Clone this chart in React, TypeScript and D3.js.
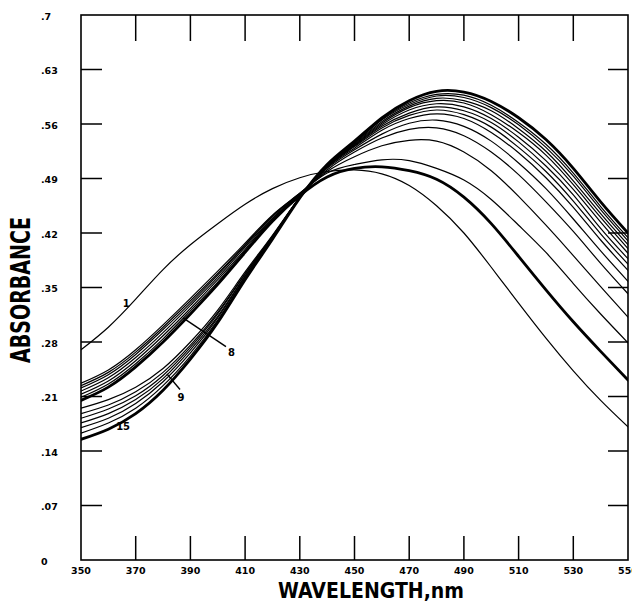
import React from "react";
import * as d3 from "d3";

const wavelengths = [350, 360, 370, 380, 390, 400, 410, 420, 430, 440, 450, 460, 470, 480, 490, 500, 510, 520, 530, 540, 550];

const spectrum1 = [0.27, 0.299, 0.335, 0.373, 0.405, 0.432, 0.457, 0.477, 0.491, 0.499, 0.501, 0.496, 0.481, 0.455, 0.42, 0.376, 0.33, 0.285, 0.243, 0.205, 0.171];
const spectrum2 = [0.227, 0.244, 0.27, 0.302, 0.336, 0.371, 0.407, 0.443, 0.471, 0.497, 0.508, 0.514, 0.513, 0.503, 0.488, 0.463, 0.43, 0.395, 0.355, 0.316, 0.279];
const spectrum3 = [0.224, 0.241, 0.267, 0.299, 0.333, 0.368, 0.405, 0.442, 0.471, 0.499, 0.518, 0.532, 0.539, 0.538, 0.524, 0.5, 0.467, 0.43, 0.391, 0.351, 0.312];
const spectrum4 = [0.221, 0.238, 0.264, 0.296, 0.33, 0.366, 0.404, 0.441, 0.47, 0.501, 0.524, 0.542, 0.553, 0.555, 0.545, 0.524, 0.495, 0.46, 0.422, 0.381, 0.342];
const spectrum5 = [0.217, 0.234, 0.26, 0.292, 0.327, 0.363, 0.402, 0.439, 0.47, 0.503, 0.527, 0.547, 0.561, 0.565, 0.557, 0.538, 0.51, 0.477, 0.438, 0.397, 0.358];
const spectrum6 = [0.213, 0.23, 0.256, 0.288, 0.323, 0.36, 0.399, 0.438, 0.469, 0.504, 0.529, 0.552, 0.567, 0.573, 0.567, 0.549, 0.523, 0.491, 0.453, 0.411, 0.372];
const spectrum7 = [0.209, 0.226, 0.252, 0.284, 0.32, 0.357, 0.397, 0.436, 0.469, 0.505, 0.531, 0.555, 0.571, 0.578, 0.572, 0.556, 0.53, 0.499, 0.461, 0.419, 0.38];
const spectrum8 = [0.205, 0.222, 0.248, 0.28, 0.316, 0.354, 0.395, 0.435, 0.468, 0.492, 0.503, 0.505, 0.5, 0.489, 0.466, 0.432, 0.39, 0.347, 0.306, 0.268, 0.231];
const spectrum9 = [0.195, 0.206, 0.222, 0.246, 0.28, 0.321, 0.37, 0.417, 0.466, 0.505, 0.532, 0.557, 0.574, 0.582, 0.577, 0.562, 0.537, 0.506, 0.469, 0.426, 0.387];
const spectrum10 = [0.188, 0.199, 0.216, 0.241, 0.276, 0.318, 0.368, 0.416, 0.466, 0.506, 0.533, 0.559, 0.578, 0.586, 0.582, 0.567, 0.543, 0.513, 0.476, 0.434, 0.394];
const spectrum11 = [0.182, 0.194, 0.211, 0.237, 0.273, 0.316, 0.367, 0.415, 0.466, 0.506, 0.534, 0.561, 0.581, 0.59, 0.587, 0.572, 0.549, 0.52, 0.482, 0.44, 0.4];
const spectrum12 = [0.176, 0.188, 0.206, 0.233, 0.27, 0.313, 0.365, 0.415, 0.466, 0.507, 0.535, 0.563, 0.583, 0.593, 0.59, 0.577, 0.554, 0.525, 0.487, 0.445, 0.405];
const spectrum13 = [0.17, 0.182, 0.201, 0.229, 0.266, 0.311, 0.364, 0.414, 0.465, 0.507, 0.536, 0.565, 0.585, 0.596, 0.594, 0.581, 0.559, 0.53, 0.493, 0.45, 0.41];
const spectrum14 = [0.163, 0.176, 0.195, 0.224, 0.262, 0.308, 0.362, 0.413, 0.465, 0.507, 0.537, 0.566, 0.587, 0.598, 0.597, 0.584, 0.562, 0.534, 0.497, 0.454, 0.414];
const spectrum15 = [0.155, 0.168, 0.188, 0.218, 0.258, 0.305, 0.36, 0.412, 0.465, 0.508, 0.538, 0.568, 0.59, 0.602, 0.601, 0.589, 0.568, 0.54, 0.503, 0.46, 0.42];

const spectra = [spectrum1, spectrum2, spectrum3, spectrum4, spectrum5, spectrum6, spectrum7, spectrum8, spectrum9, spectrum10, spectrum11, spectrum12, spectrum13, spectrum14, spectrum15];
const thickSpectra = [8, 15];

const xTickValues = [350, 370, 390, 410, 430, 450, 470, 490, 510, 530, 550];
const xTickLabels = ["350", "370", "390", "410", "430", "450", "470", "490", "510", "530", "550"];
const yTickValues = [0, 0.07, 0.14, 0.21, 0.28, 0.35, 0.42, 0.49, 0.56, 0.63, 0.7];
const yTickLabels = ["0", ".07", ".14", ".21", ".28", ".35", ".42", ".49", ".56", ".63", ".7"];

// curve labels: [text, wavelength, absorbance]
const curveLabels: [string, number, number][] = [
  ["1", 366.5, 0.33],
  ["8", 405, 0.266],
  ["9", 386.6, 0.209],
  ["15", 365.4, 0.171],
];
// leader lines: [wl1, abs1, wl2, abs2]
const leaders: [number, number, number, number][] = [
  [403, 0.274, 387.3, 0.311],
  [386.2, 0.219, 381.4, 0.239],
];

const W = 632;
const H = 602;
const font = "'DejaVu Sans', 'Liberation Sans', sans-serif";

export default function App() {
  const x = d3.scaleLinear().domain([350, 550]).range([81, 628]);
  const y = d3.scaleLinear().domain([0, 0.7]).range([560, 15]);
  const line = d3
    .line<number>()
    .x((_, i) => x(wavelengths[i]))
    .y((d) => y(d))
    .curve(d3.curveNatural);

  const x0 = x(350), x1 = x(550), y0 = y(0), y1 = y(0.7);

  return (
    <svg
      width={W}
      height={H}
      viewBox={`0 0 ${W} ${H}`}
      style={{ position: "absolute", left: 0, top: 0, background: "#fff" }}
    >
      <rect x={0} y={0} width={W} height={H} fill="#fff" />
      <defs>
        <clipPath id="plotClip">
          <rect x={x0} y={y1} width={x1 - x0} height={y0 - y1} />
        </clipPath>
      </defs>
      {/* curves */}
      <g fill="none" stroke="#000" strokeLinejoin="round" strokeLinecap="round" clipPath="url(#plotClip)">
        {spectra.map((s, i) => (
          <path
            key={i}
            d={line(s) || ""}
            strokeWidth={thickSpectra.includes(i + 1) ? 2.8 : 1.2}
          />
        ))}
      </g>
      {/* frame */}
      <rect x={x0} y={y1} width={x1 - x0} height={y0 - y1} fill="none" stroke="#000" strokeWidth={1.6} />
      {/* ticks */}
      <g stroke="#000" strokeWidth={1.5}>
        {xTickValues.slice(1, -1).map((v) => (
          <g key={"xt" + v}>
            <line x1={x(v)} x2={x(v)} y1={y0} y2={y0 - 24} />
            <line x1={x(v)} x2={x(v)} y1={y1} y2={y1 + 26} />
          </g>
        ))}
        {yTickValues.slice(1, -1).map((v) => (
          <g key={"yt" + v}>
            <line x1={x0} x2={x0 + 21} y1={y(v)} y2={y(v)} />
            <line x1={x1} x2={x1 - 20} y1={y(v)} y2={y(v)} />
          </g>
        ))}
      </g>
      {/* tick labels */}
      <g fontFamily={font} fontWeight="bold" fontSize={9.5} fill="#000">
        {xTickValues.map((v, i) => (
          <text key={"xl" + v} x={x(v)} y={570} textAnchor="middle" dominantBaseline="central">
            {xTickLabels[i]}
          </text>
        ))}
        {yTickValues.map((v, i) => (
          <text key={"yl" + v} x={41} y={y(v) + 1} textAnchor="start" dominantBaseline="central">
            {yTickLabels[i]}
          </text>
        ))}
      </g>
      {/* curve labels */}
      <g fontFamily={font} fontWeight="bold" fontSize={10} fill="#000">
        {curveLabels.map(([t, wl, a]) => (
          <text key={t} x={x(wl)} y={y(a)} textAnchor="middle" dominantBaseline="central">
            {t}
          </text>
        ))}
      </g>
      <g stroke="#000" strokeWidth={1.4}>
        {leaders.map(([a, b, c, d], i) => (
          <line key={i} x1={x(a)} y1={y(b)} x2={x(c)} y2={y(d)} />
        ))}
      </g>
      {/* axis titles */}
      <text
        x={278}
        y={598}
        fontFamily={font}
        fontWeight="bold"
        fontSize={22}
        textLength={186}
        lengthAdjust="spacingAndGlyphs"
        fill="#000"
      >
        WAVELENGTH,nm
      </text>
      <text
        transform={`translate(30, 290) rotate(-90)`}
        x={0}
        y={0}
        textAnchor="middle"
        fontFamily={font}
        fontWeight="bold"
        fontSize={27}
        textLength={146}
        lengthAdjust="spacingAndGlyphs"
        fill="#000"
      >
        ABSORBANCE
      </text>
    </svg>
  );
}
